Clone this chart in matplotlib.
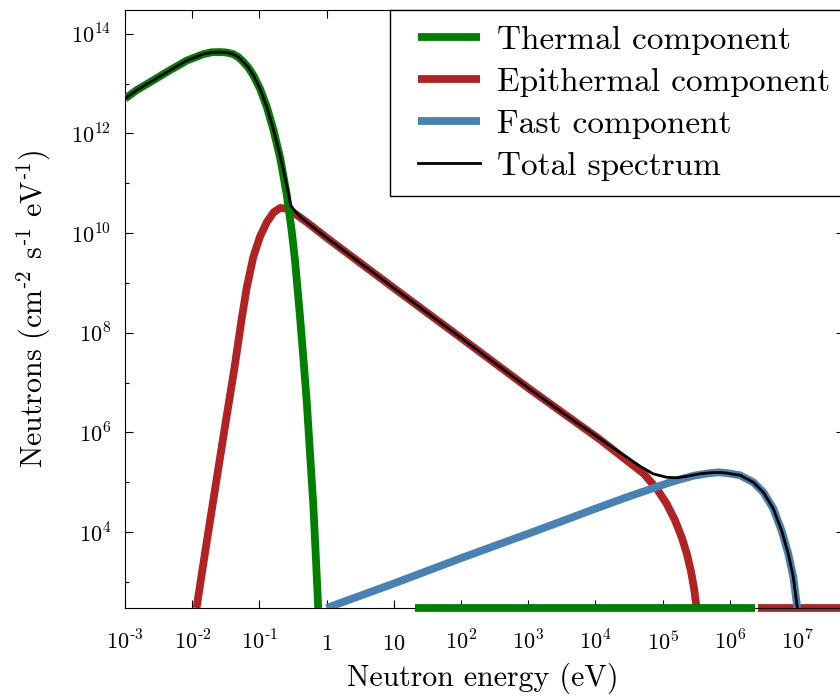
import matplotlib
matplotlib.use("Agg")
import matplotlib.pyplot as plt
from matplotlib.legend_handler import HandlerLine2D
from matplotlib.lines import Line2D

plt.rcParams['font.family'] = 'serif'
plt.rcParams['font.serif'] = ['cmr10']
plt.rcParams['mathtext.fontset'] = 'cm'
plt.rcParams['axes.unicode_minus'] = False

# values (E in eV, flux in cm^-2 s^-1 eV^-1)
thermal_E = [1.0e-3, 1.49e-3, 2.64e-3, 4.68e-3, 8.3e-3, 1.46e-2, 1.95e-2, 2.59e-2,
             3.26e-2, 4.09e-2, 4.85e-2, 5.75e-2, 6.84e-2, 8.1e-2, 0.102, 0.129,
             0.162, 0.204, 0.255, 0.302, 0.339, 0.402, 0.447, 0.506, 0.562, 0.634,
             0.692, 0.75]
thermal_phi = [5.0e12, 7.4e12, 1.17e13, 1.86e13, 2.9e13, 3.9e13, 4.25e13, 4.3e13,
               4.2e13, 3.9e13, 3.4e13, 2.75e13, 2.1e13, 1.48e13, 7.9e12, 3.4e12,
               1.17e12, 3.2e11, 6.0e10, 1.12e10, 2.8e9, 2.1e8, 3.6e7, 4.2e6, 4.5e5,
               3.5e4, 3.1e3, 3.0e2]
thermal_tail_E = [21.0, 2.4e6]
thermal_tail_phi = [3.0e2, 3.0e2]

epi_E = [0.0116, 0.0158, 0.0224, 0.0316, 0.0417, 0.0545, 0.0646, 0.081, 0.102,
         0.129, 0.162, 0.204, 0.255, 0.319, 0.506, 1.0, 10.0, 100.0, 1.0e3,
         4.7e3, 1.17e4, 2.92e4, 5.2e4, 8.2e4, 1.15e5, 1.53e5, 1.92e5, 2.29e5,
         2.63e5, 2.95e5, 3.2e5]
epi_phi = [3.0e2, 4.5e3, 8.9e4, 1.66e6, 1.66e7, 1.9e8, 7.9e8, 3.3e9, 8.5e9,
           1.66e10, 2.6e10, 3.2e10, 3.1e10, 2.6e10, 1.66e10, 8.1e9, 7.9e8, 7.9e7,
           7.8e6, 1.74e6, 7.2e5, 2.75e5, 1.5e5, 7.4e4, 3.7e4, 1.72e4, 7.9e3,
           3.7e3, 1.7e3, 7.1e2, 3.0e2]
epi_tail_E = [2.6e6, 5.0e7]
epi_tail_phi = [3.0e2, 3.0e2]

fast_E = [1.0, 10.0, 100.0, 1.0e3, 2.97e3, 9.3e3, 2.92e4, 7.2e4, 1.45e5, 2.86e5,
          5.07e5, 6.8e5, 9.0e5, 1.42e6, 2.24e6, 3.16e6, 4.44e6, 5.9e6, 7.4e6,
          8.8e6, 1.01e7]
fast_phi = [3.0e2, 9.3e2, 3.0e3, 9.3e3, 1.6e4, 2.85e4, 5.0e4, 7.6e4, 1.05e5, 1.35e5,
            1.53e5, 1.58e5, 1.53e5, 1.38e5, 1.0e5, 6.3e4, 2.95e4, 1.07e4, 3.7e3,
            1.26e3, 3.0e2]

total_E = [1.0e-3, 1.49e-3, 2.64e-3, 4.68e-3, 8.3e-3, 1.46e-2, 1.95e-2, 2.59e-2,
           3.26e-2, 4.09e-2, 4.85e-2, 5.75e-2, 6.84e-2, 8.1e-2, 0.102, 0.129,
           0.162, 0.204, 0.255, 0.292, 0.339, 0.402, 0.506, 1.0, 10.0, 100.0,
           1.0e3, 4.7e3, 1.17e4, 1.65e4, 2.92e4, 4.61e4, 7.2e4, 1.15e5, 1.62e5,
           2.29e5, 3.6e5, 5.07e5, 6.8e5, 9.0e5, 1.42e6, 2.24e6, 3.16e6, 4.44e6,
           5.9e6, 7.4e6, 8.8e6, 1.01e7]
total_phi = [5.0e12, 7.4e12, 1.17e13, 1.86e13, 2.9e13, 3.9e13, 4.25e13, 4.3e13,
             4.2e13, 3.9e13, 3.4e13, 2.75e13, 2.1e13, 1.48e13, 7.9e12, 3.4e12,
             1.17e12, 3.5e11, 9.1e10, 3.6e10, 2.75e10, 2.15e10, 1.66e10, 8.1e9,
             7.9e8, 7.9e7, 7.8e6, 1.74e6, 7.5e5, 5.4e5, 3.2e5, 2.1e5, 1.48e5,
             1.26e5, 1.23e5, 1.32e5, 1.48e5, 1.55e5, 1.58e5, 1.53e5, 1.38e5, 1.0e5,
             6.3e4, 2.95e4, 1.07e4, 3.7e3, 1.26e3, 3.0e2]

HY = '\u2010'
xticks = [1e-3, 1e-2, 1e-1, 1, 10, 1e2, 1e3, 1e4, 1e5, 1e6, 1e7]
xticklabels = [r'$10^{%s3}$' % HY, r'$10^{%s2}$' % HY, r'$10^{%s1}$' % HY, r'$1$',
               r'$10$', r'$10^{2}$', r'$10^{3}$', r'$10^{4}$', r'$10^{5}$',
               r'$10^{6}$', r'$10^{7}$']
yticks = [1e4, 1e6, 1e8, 1e10, 1e12, 1e14]
yticklabels = [r'$10^{4}$', r'$10^{6}$', r'$10^{8}$', r'$10^{10}$', r'$10^{12}$',
               r'$10^{14}$']
yminor = [1e3, 1e5, 1e7, 1e9, 1e11, 1e13]

GREEN = '#008000'
RED = '#b22222'
BLUE = '#4682b4'
LW = 5.6

fig = plt.figure(figsize=(8.4, 7), dpi=100)
ax = fig.add_axes([125 / 840, 92 / 700, 719 / 840, 598 / 700])

ax.plot(epi_E, epi_phi, color=RED, lw=LW, solid_capstyle='butt',
        solid_joinstyle='round', zorder=2, label='Epithermal component')
ax.plot(epi_tail_E, epi_tail_phi, color=RED, lw=LW, solid_capstyle='butt',
        zorder=2, clip_on=False)
ax.plot(thermal_E, thermal_phi, color=GREEN, lw=LW, solid_capstyle='butt',
        solid_joinstyle='round', zorder=3, label='Thermal component')
ax.plot(thermal_tail_E, thermal_tail_phi, color=GREEN, lw=LW, solid_capstyle='butt',
        zorder=3, clip_on=False)
ax.plot(fast_E, fast_phi, color=BLUE, lw=LW, solid_capstyle='butt',
        solid_joinstyle='round', zorder=4, label='Fast component')
ax.plot(total_E, total_phi, color='black', lw=2.0, solid_joinstyle='round',
        zorder=5, label='Total spectrum')

ax.set_xscale('log')
ax.set_yscale('log')
ax.set_xlim(1e-3, 5e7)
ax.set_ylim(3e2, 3e14)

ax.set_xticks(xticks)
ax.set_xticklabels(xticklabels)
ax.set_xticks([], minor=True)
ax.set_yticks(yticks)
ax.set_yticklabels(yticklabels)
ax.set_yticks(yminor, minor=True)
ax.set_yticklabels([], minor=True)

ax.tick_params(which='both', direction='in', top=True, right=True, width=0.8,
               labelsize=16)
ax.tick_params(which='major', length=5.8)
ax.tick_params(which='minor', length=2.9)
ax.tick_params(axis='x', pad=30)
ax.tick_params(axis='y', pad=10)
plt.setp(ax.get_xticklabels(), va='baseline')
for s in ax.spines.values():
    s.set_linewidth(0.8)

ax.set_xlabel('Neutron energy (eV)', fontsize=21.5)
ax.xaxis.set_label_coords(0.497, -0.092)
ax.set_ylabel(r'Neutrons (cm$^{%s2}$ s$^{%s1}$ eV$^{%s1}$)' % (HY, HY, HY),
              fontsize=21.5)
ax.yaxis.set_label_coords(-0.1, 0.5)

h, l = ax.get_legend_handles_labels()
order = [1, 0, 2, 3]
fs = 24
px = fs * 100 / 72
leg = ax.legend([h[i] for i in order], [l[i] for i in order], fontsize=fs,
                loc='upper left', bbox_to_anchor=(390 / 840, 690 / 700),
                bbox_transform=fig.transFigure, borderaxespad=0,
                fancybox=False, edgecolor='black', framealpha=1,
                borderpad=15.5 / px, labelspacing=0.38,
                handlelength=74.5 / px, handletextpad=17 / px,
                handler_map={Line2D: HandlerLine2D(xpad=12.5 / px)})
leg.get_frame().set_linewidth(1.0)

fig.savefig('out.png', dpi=100)
